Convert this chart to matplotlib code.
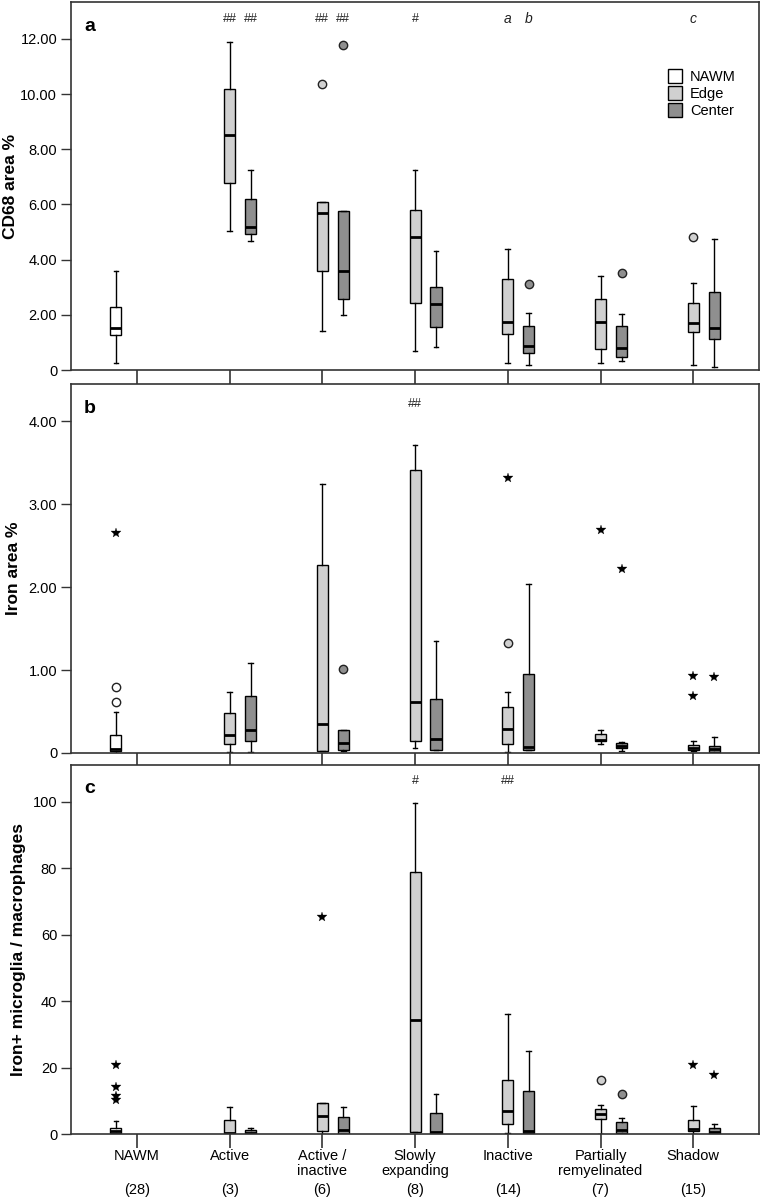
import matplotlib
matplotlib.use('Agg')
import matplotlib.pyplot as plt
from matplotlib.patches import Patch
from matplotlib.transforms import blended_transform_factory

plt.rcParams['font.family'] = ['Liberation Sans', 'DejaVu Sans']

groups = ['NAWM', 'Active', 'Active /\ninactive', 'Slowly\nexpanding',
          'Inactive', 'Partially\nremyelinated', 'Shadow']
counts = ['(28)', '(3)', '(6)', '(8)', '(14)', '(7)', '(15)']
series_names = ['NAWM', 'Edge', 'Center']
series_colors = {'NAWM': '#ffffff', 'Edge': '#d0d0d0', 'Center': '#8f8f8f'}

# box order: NAWM, then Edge/Center for each lesion type
box_group = [0, 1, 1, 2, 2, 3, 3, 4, 4, 5, 5, 6, 6]
box_series = ['NAWM'] + ['Edge', 'Center'] * 6

# panel a: CD68 area %
cd68_lo = [0.27, 5.04, 4.66, 1.40, 1.99, 0.70, 0.82, 0.27, 0.17, 0.24, 0.34, 0.17, 0.10]
cd68_q1 = [1.27, 6.78, 4.92, 3.58, 2.57, 2.44, 1.57, 1.31, 0.60, 0.77, 0.47, 1.38, 1.11]
cd68_med = [1.51, 8.51, 5.18, 5.70, 3.59, 4.82, 2.39, 1.74, 0.86, 1.74, 0.81, 1.72, 1.53]
cd68_q3 = [2.30, 10.17, 6.21, 6.08, 5.75, 5.80, 3.02, 3.29, 1.58, 2.56, 1.58, 2.44, 2.83]
cd68_hi = [3.58, 11.87, 7.25, 6.08, 5.75, 7.23, 4.30, 4.39, 2.08, 3.42, 2.03, 3.17, 4.73]
# outliers: (box index, value)
cd68_circ_box = [3, 4, 8, 10, 11]
cd68_circ_val = [10.36, 11.76, 3.12, 3.52, 4.82]
cd68_star_box = []
cd68_star_val = []
cd68_notes_box = [1, 2, 3, 4, 5, 7, 8, 11]
cd68_notes = ['##', '##', '##', '##', '#', 'a', 'b', 'c']

# panel b: Iron area %
iron_lo = [0.00, 0.01, 0.01, 0.02, 0.02, 0.06, 0.04, 0.01, 0.03, 0.11, 0.02, 0.02, 0.00]
iron_q1 = [0.02, 0.11, 0.14, 0.02, 0.03, 0.15, 0.04, 0.11, 0.03, 0.14, 0.06, 0.03, 0.01]
iron_med = [0.05, 0.22, 0.28, 0.35, 0.12, 0.61, 0.17, 0.29, 0.07, 0.16, 0.09, 0.06, 0.05]
iron_q3 = [0.22, 0.48, 0.69, 2.27, 0.28, 3.41, 0.65, 0.56, 0.95, 0.23, 0.12, 0.10, 0.09]
iron_hi = [0.49, 0.73, 1.09, 3.25, 0.28, 3.72, 1.35, 0.73, 2.04, 0.28, 0.13, 0.14, 0.19]
iron_circ_box = [0, 0, 4, 7]
iron_circ_val = [0.79, 0.61, 1.01, 1.33]
iron_star_box = [0, 7, 9, 10, 11, 11, 12]
iron_star_val = [2.65, 3.32, 2.69, 2.22, 0.93, 0.69, 0.92]
iron_notes_box = [5]
iron_notes = ['##']

# panel c: Iron+ microglia / macrophages
mg_lo = [0.0, 0.0, 0.0, 0.1, 0.0, 0.5, 0.0, 0.2, 0.0, 0.1, 0.0, 0.1, 0.0]
mg_q1 = [0.2, 0.1, 0.1, 1.0, 0.1, 0.7, 0.1, 2.9, 0.3, 4.5, 0.3, 1.0, 0.1]
mg_med = [1.0, 0.3, 0.4, 5.5, 1.3, 34.4, 0.5, 6.9, 0.9, 5.9, 1.1, 1.6, 0.5]
mg_q3 = [1.8, 4.2, 1.1, 9.3, 5.0, 78.7, 6.3, 16.2, 12.9, 7.6, 3.6, 4.2, 1.8]
mg_hi = [3.9, 8.2, 1.7, 9.3, 8.0, 99.7, 12.0, 36.0, 24.9, 8.6, 4.7, 8.3, 2.9]
mg_circ_box = [9, 10]
mg_circ_val = [16.3, 12.0]
mg_star_box = [0, 0, 0, 0, 3, 11, 12]
mg_star_val = [20.9, 14.1, 11.3, 10.1, 65.2, 20.9, 17.9]
mg_notes_box = [5, 7]
mg_notes = ['#', '##']

offsets = {'NAWM': -0.226, 'Edge': 0.0, 'Center': 0.226}
positions = [g + offsets[s] for g, s in zip(box_group, box_series)]
dark = '#333333'

fig = plt.figure(figsize=(7.77, 11.99), dpi=100)
ax_a = fig.add_axes([0.0914, 0.6914, 0.8856, 0.3066])
ax_b = fig.add_axes([0.0914, 0.372, 0.8856, 0.3077])
ax_c = fig.add_axes([0.0914, 0.0542, 0.8856, 0.3078])


def draw_panel(ax, lo, q1, med, q3, hi, circ_box, circ_val, star_box, star_val,
               notes_box, notes, ymax, note_y, ticks, ticklabels, ylabel, letter, ylabel_x):
    stats = []
    for i in range(len(positions)):
        stats.append({'whislo': lo[i], 'q1': q1[i], 'med': med[i],
                      'q3': q3[i], 'whishi': hi[i], 'fliers': []})
    res = ax.bxp(stats, positions=positions, widths=0.12, patch_artist=True,
                 showfliers=False, manage_ticks=False,
                 boxprops=dict(edgecolor='black', linewidth=1.0),
                 medianprops=dict(color='black', linewidth=2.0),
                 whiskerprops=dict(color='black', linewidth=1.0),
                 capprops=dict(color='black', linewidth=1.0),
                 capwidths=0.05)
    for patch, s in zip(res['boxes'], box_series):
        patch.set_facecolor(series_colors[s])

    for b, v in zip(circ_box, circ_val):
        ax.plot(positions[b], v, 'o', ms=6, mfc=series_colors[box_series[b]],
                mec='#222222', mew=1.0, zorder=4)
    for b, v in zip(star_box, star_val):
        ax.plot(positions[b], v, '*', ms=7, color='black', mew=0.2, zorder=4)
    for b, t in zip(notes_box, notes):
        italic = t.isalpha()
        ax.text(positions[b], note_y, t, ha='center', va='center',
                fontsize=10 if italic else 9, style='italic' if italic else 'normal',
                color='#222222')

    ax.set_xlim(-0.71, 6.71)
    ax.set_ylim(0, ymax)
    ax.set_yticks(ticks)
    ax.set_yticklabels(ticklabels, fontsize=10.5)
    ax.set_xticks(range(len(groups)))
    ax.tick_params(axis='y', direction='out', length=7, width=1, color=dark, pad=3)
    ax.tick_params(axis='x', direction='out', length=10, width=1.2, color=dark, pad=0.5)
    for sp in ax.spines.values():
        sp.set_color(dark)
        sp.set_linewidth(1.2)
    ax.set_ylabel(ylabel, fontsize=12.5, fontweight='bold')
    ax.yaxis.set_label_coords(ylabel_x, 0.5)
    ax.text(0.019, 0.935, letter, transform=ax.transAxes, fontsize=14,
            fontweight='bold', va='center', ha='left')


draw_panel(ax_a, cd68_lo, cd68_q1, cd68_med, cd68_q3, cd68_hi,
           cd68_circ_box, cd68_circ_val, cd68_star_box, cd68_star_val,
           cd68_notes_box, cd68_notes, 13.32, 12.72,
           [0, 2, 4, 6, 8, 10, 12], ['0', '2.00', '4.00', '6.00', '8.00', '10.00', '12.00'],
           'CD68 area %', 'a', -0.077)
draw_panel(ax_b, iron_lo, iron_q1, iron_med, iron_q3, iron_hi,
           iron_circ_box, iron_circ_val, iron_star_box, iron_star_val,
           iron_notes_box, iron_notes, 4.45, 4.21,
           [0, 1, 2, 3, 4], ['0', '1.00', '2.00', '3.00', '4.00'],
           'Iron area %', 'b', -0.073)
draw_panel(ax_c, mg_lo, mg_q1, mg_med, mg_q3, mg_hi,
           mg_circ_box, mg_circ_val, mg_star_box, mg_star_val,
           mg_notes_box, mg_notes, 111.0, 106.2,
           [0, 20, 40, 60, 80, 100], ['0', '20', '40', '60', '80', '100'],
           'Iron+ microglia / macrophages', 'c', -0.066)

for ax in (ax_a, ax_b):
    ax.set_xticklabels([])
ax_c.set_xticklabels(groups, fontsize=10.5, linespacing=1.15)
trans = blended_transform_factory(ax_c.transData, ax_c.transAxes)
for i, n in enumerate(counts):
    ax_c.text(i, -0.152, n, transform=trans, ha='center', va='center', fontsize=10.5)

handles = [Patch(facecolor=series_colors[s], edgecolor='black', linewidth=1.0)
           for s in series_names]
ax_a.legend(handles, series_names, loc='upper left', bbox_to_anchor=(0.868, 0.818),
            frameon=False, fontsize=10.5, handlelength=0.95, handleheight=1.1,
            handletextpad=0.55, labelspacing=0.12, borderpad=0, borderaxespad=0)

fig.savefig('out.png', dpi=100)
